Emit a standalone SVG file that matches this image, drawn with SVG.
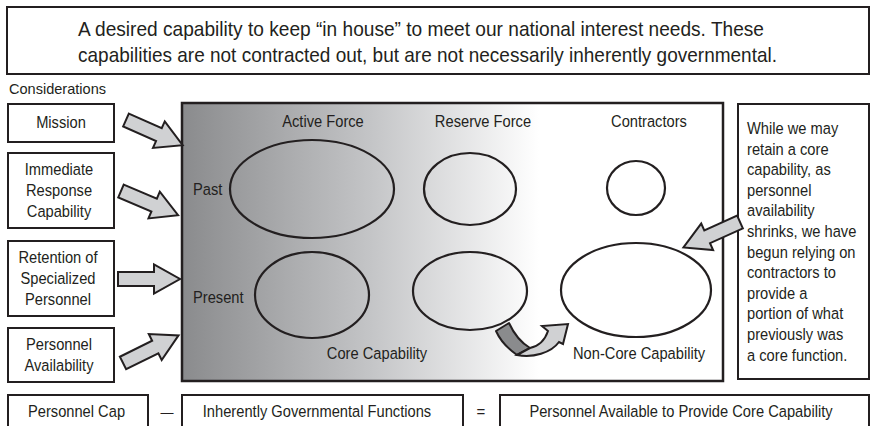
<svg xmlns="http://www.w3.org/2000/svg" width="872" height="426" viewBox="0 0 872 426">
<defs>
<style>
text{font-family:"Liberation Sans",Arial,sans-serif;fill:#231f20;}
.b{font-size:16.5px;}
.c{text-anchor:middle;}
.box{fill:#fff;stroke:#231f20;stroke-width:2;}
.ell{fill:none;stroke:#231f20;stroke-width:2.2;}
.arr{fill:#d0d1d3;stroke:#231f20;stroke-width:2;stroke-linejoin:miter;}
</style>
<linearGradient id="g" x1="0" y1="0" x2="1" y2="0">
<stop offset="0" stop-color="#8a8b8d"/>
<stop offset="0.35" stop-color="#c4c5c7"/>
<stop offset="0.66" stop-color="#ffffff"/>
<stop offset="1" stop-color="#ffffff"/>
</linearGradient>
<path id="ar" d="M0,-7 L36,-7 L36,-14.5 L62,0 L36,14.5 L36,7 L0,7 Z"/>
</defs>

<g id="header">
<rect class="box" x="7" y="7" width="862" height="67"/>
<text x="78" y="36" font-size="21" textLength="686" lengthAdjust="spacingAndGlyphs">A desired capability to keep “in house” to meet our national interest needs.  These</text>
<text x="78" y="62" font-size="21" textLength="699" lengthAdjust="spacingAndGlyphs">capabilities are not contracted out, but are not necessarily inherently governmental.</text>
</g>

<text x="9" y="94" font-size="14.5" textLength="97" lengthAdjust="spacingAndGlyphs">Considerations</text>

<g id="mission">
<rect class="box" x="8" y="104" width="106" height="38"/>
<text class="b c" transform="matrix(.89 0 0 1 61 0)" y="128">Mission</text>
</g>
<g id="immediate">
<rect class="box" x="8" y="153" width="106" height="75"/>
<text class="b c" transform="matrix(.89 0 0 1 59 0)" y="175">Immediate</text>
<text class="b c" transform="matrix(.89 0 0 1 59 0)" y="196">Response</text>
<text class="b c" transform="matrix(.89 0 0 1 59 0)" y="217">Capability</text>
</g>
<g id="retention">
<rect class="box" x="8" y="241" width="106" height="75"/>
<text class="b c" transform="matrix(.89 0 0 1 58 0)" y="263">Retention of</text>
<text class="b c" transform="matrix(.89 0 0 1 58 0)" y="284">Specialized</text>
<text class="b c" transform="matrix(.89 0 0 1 58 0)" y="305">Personnel</text>
</g>
<g id="availability">
<rect class="box" x="8" y="328" width="106" height="54"/>
<text class="b c" transform="matrix(.89 0 0 1 59 0)" y="350">Personnel</text>
<text class="b c" transform="matrix(.89 0 0 1 59 0)" y="371">Availability</text>
</g>

<g id="main">
<rect x="182" y="103" width="541" height="278" fill="url(#g)" stroke="#231f20" stroke-width="2.5"/>
<text class="b c" transform="matrix(.89 0 0 1 323 0)" y="127">Active Force</text>
<text class="b c" transform="matrix(.89 0 0 1 483 0)" y="127">Reserve Force</text>
<text class="b c" transform="matrix(.89 0 0 1 649 0)" y="127">Contractors</text>
<text class="b" transform="matrix(.89 0 0 1 193 0)" y="195">Past</text>
<text class="b" transform="matrix(.89 0 0 1 193 0)" y="303">Present</text>
<text class="b c" transform="matrix(.89 0 0 1 377 0)" y="359">Core Capability</text>
<text class="b" transform="matrix(.89 0 0 1 573 0)" y="359">Non-Core Capability</text>
</g>

<g id="ellipses">
<ellipse id="active-past" class="ell" cx="312" cy="189" rx="82" ry="49"/>
<ellipse id="reserve-past" class="ell" cx="470" cy="189" rx="46" ry="36"/>
<ellipse id="contractor-past" class="ell" cx="636" cy="188" rx="29" ry="27"/>
<ellipse id="active-present" class="ell" cx="312" cy="295" rx="57" ry="43"/>
<ellipse id="reserve-present" class="ell" cx="470" cy="291" rx="57" ry="39"/>
<ellipse id="noncore" class="ell" cx="636" cy="290" rx="75" ry="47" style="fill:#fff"/>
</g>

<g id="note">
<rect class="box" x="738" y="104" width="131" height="275"/>
<text class="b" transform="matrix(.89 0 0 1 747 0)" y="134">While we may</text>
<text class="b" transform="matrix(.89 0 0 1 747 0)" y="154.6">retain a core</text>
<text class="b" transform="matrix(.89 0 0 1 747 0)" y="175.2">capability, as</text>
<text class="b" transform="matrix(.89 0 0 1 747 0)" y="195.8">personnel</text>
<text class="b" transform="matrix(.89 0 0 1 747 0)" y="216.4">availability</text>
<text class="b" transform="matrix(.89 0 0 1 747 0)" y="237">shrinks, we have</text>
<text class="b" transform="matrix(.89 0 0 1 747 0)" y="257.6">begun relying on</text>
<text class="b" transform="matrix(.89 0 0 1 747 0)" y="278.2">contractors to</text>
<text class="b" transform="matrix(.89 0 0 1 747 0)" y="298.8">provide a</text>
<text class="b" transform="matrix(.89 0 0 1 747 0)" y="319.4">portion of what</text>
<text class="b" transform="matrix(.89 0 0 1 747 0)" y="340">previously was</text>
<text class="b" transform="matrix(.89 0 0 1 747 0)" y="360.6">a core function.</text>
</g>

<g id="connectors">
<use href="#ar" class="arr" transform="translate(126,120) rotate(24)"/>
<use href="#ar" class="arr" transform="translate(121,191) rotate(23)"/>
<use href="#ar" class="arr" transform="translate(118,279) rotate(0)"/>
<use href="#ar" class="arr" transform="translate(123,363) rotate(-26.4)"/>
<use href="#ar" class="arr" transform="translate(740,222) rotate(155.8)"/>
<path d="M496,331 L509,323 C514,334 520,342 530,348 L517,355 C507,348 500,340 496,331 Z" fill="#8a8b8d" stroke="#231f20" stroke-width="2" stroke-linejoin="round"/>
<path d="M517,355 L530,348 C539,346 545,340 548,331 L542,326 L568,324 L563,344 L559,342 C551,353 533,358 517,355 Z" fill="#d0d1d3" stroke="#231f20" stroke-width="2" stroke-linejoin="miter"/>
</g>

<g id="equation">
<g id="cap">
<rect class="box" x="8" y="395" width="140" height="40"/>
<text class="b c" transform="matrix(.89 0 0 1 76.5 0)" y="417">Personnel Cap</text>
</g>
<text class="c" font-size="13" x="167" y="417">—</text>
<g id="igf">
<rect class="box" x="182" y="395" width="281" height="40"/>
<text class="b c" transform="matrix(.89 0 0 1 317 0)" y="417">Inherently Governmental Functions</text>
</g>
<text class="c" font-size="15" x="481" y="417">=</text>
<g id="available">
<rect class="box" x="500" y="395" width="369" height="40"/>
<text class="b c" transform="matrix(.89 0 0 1 681 0)" y="417">Personnel Available to Provide Core Capability</text>
</g>
</g>
</svg>
